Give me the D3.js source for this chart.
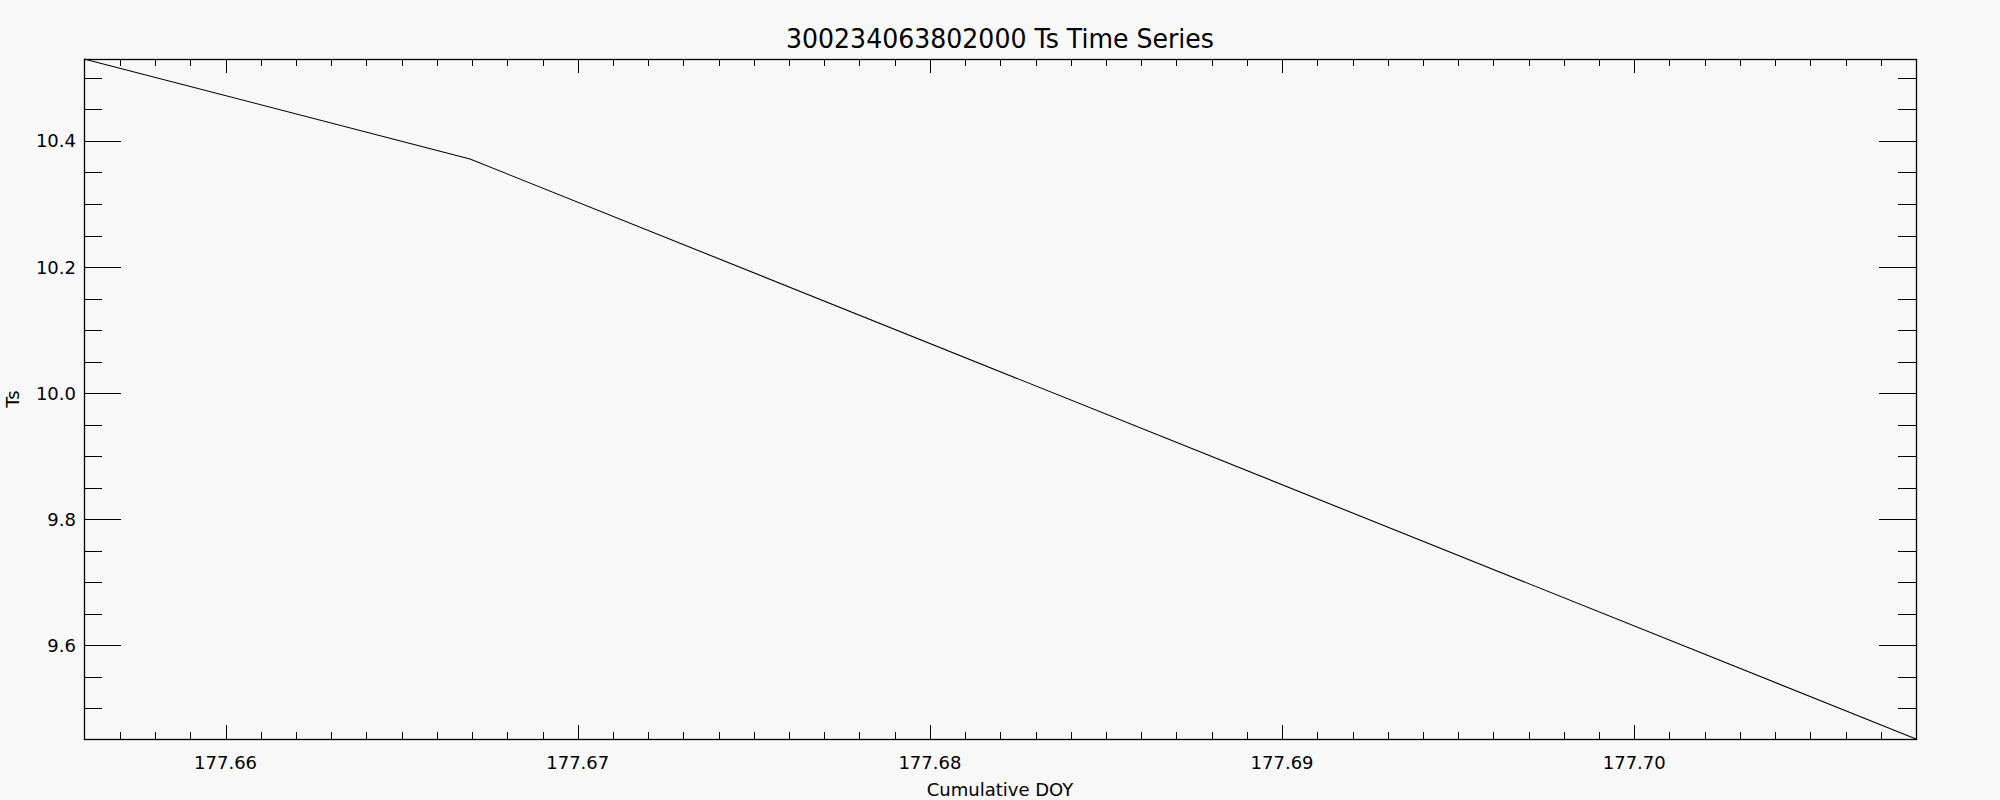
<!DOCTYPE html>
<html lang="en">
  <head>
    <meta charset="UTF-8" />
    <title>Ts Time Series</title>
    <script src="https://d3js.org/d3.v7.min.js"></script>
    <style>
      body {
        margin: 0;
        background-color: #f8f8f8;
      }
      svg {
        display: block;
        font-family: 'DejaVu Sans', sans-serif;
      }
      .axis path,
      .axis line {
        stroke: #000;
        shape-rendering: crispEdges;
      }
      .axis text {
        font-size: 18px;
        fill: #000;
      }
    </style>
  </head>
  <body>
    <svg width="2000" height="800"></svg>

    <script>
      // data
      const doy = [177.65598, 177.66694, 177.70800];
      const ts = [10.530, 10.3714, 9.4513];
      const xTicks = [177.66, 177.67, 177.68, 177.69, 177.70];
      const yTicks = [9.6, 9.8, 10.0, 10.2, 10.4];
      const xDomain = [177.65598, 177.70800];
      const yDomain = [9.4513, 10.530];

      const width = 2000,
        height = 800;
      const margin = { top: 59, right: 84, bottom: 61, left: 84 };

      const svg = d3.select('svg');

      const x = d3
        .scaleLinear()
        .domain(xDomain)
        .range([margin.left, width - margin.right]);

      const y = d3
        .scaleLinear()
        .domain(yDomain)
        .range([height - margin.bottom, margin.top]);

      // minor ticks (skip ones that sit on the frame)
      const xMinor = d3.range(177.657, 177.7075, 0.001);
      const yMinor = d3.range(9.5, 10.531, 0.05);

      // minor ticks, bottom & top
      svg
        .append('g')
        .attr('class', 'axis')
        .attr('transform', `translate(0,${y.range()[0]})`)
        .call(d3.axisTop(x).tickValues(xMinor).tickSize(7).tickFormat(''))
        .call((g) => g.select('.domain').remove());
      svg
        .append('g')
        .attr('class', 'axis')
        .attr('transform', `translate(0,${y.range()[1]})`)
        .call(d3.axisBottom(x).tickValues(xMinor).tickSize(7).tickFormat(''))
        .call((g) => g.select('.domain').remove());

      // major ticks with labels
      svg
        .append('g')
        .attr('class', 'axis')
        .attr('transform', `translate(0,${y.range()[0]})`)
        .call(d3.axisTop(x).tickValues(xTicks).tickSize(14).tickFormat(''))
        .call((g) => g.select('.domain').remove());
      svg
        .append('g')
        .attr('class', 'axis')
        .attr('transform', `translate(0,${y.range()[1]})`)
        .call(d3.axisBottom(x).tickValues(xTicks).tickSize(14).tickFormat(''))
        .call((g) => g.select('.domain').remove());

      svg
        .append('g')
        .attr('class', 'axis')
        .selectAll('text')
        .data(xTicks)
        .join('text')
        .attr('x', (d) => x(d))
        .attr('y', y.range()[0] + 30)
        .attr('text-anchor', 'middle')
        .text(d3.format('.2f'));

      // y minor ticks
      svg
        .append('g')
        .attr('class', 'axis')
        .attr('transform', `translate(${x.range()[0]},0)`)
        .call(d3.axisRight(y).tickValues(yMinor).tickSize(18).tickFormat(''))
        .call((g) => g.select('.domain').remove());
      svg
        .append('g')
        .attr('class', 'axis')
        .attr('transform', `translate(${x.range()[1]},0)`)
        .call(d3.axisLeft(y).tickValues(yMinor).tickSize(18).tickFormat(''))
        .call((g) => g.select('.domain').remove());

      // y major ticks
      svg
        .append('g')
        .attr('class', 'axis')
        .attr('transform', `translate(${x.range()[0]},0)`)
        .call(d3.axisRight(y).tickValues(yTicks).tickSize(37).tickFormat(''))
        .call((g) => g.select('.domain').remove());
      svg
        .append('g')
        .attr('class', 'axis')
        .attr('transform', `translate(${x.range()[1]},0)`)
        .call(d3.axisLeft(y).tickValues(yTicks).tickSize(37).tickFormat(''))
        .call((g) => g.select('.domain').remove());

      svg
        .append('g')
        .attr('class', 'axis')
        .selectAll('text')
        .data(yTicks)
        .join('text')
        .attr('x', x.range()[0] - 8)
        .attr('y', (d) => y(d))
        .attr('dy', '0.36em')
        .attr('text-anchor', 'end')
        .text(d3.format('.1f'));

      // frame
      svg
        .append('rect')
        .attr('x', x.range()[0] + 0.5)
        .attr('y', y.range()[1] + 0.5)
        .attr('width', x.range()[1] - x.range()[0])
        .attr('height', y.range()[0] - y.range()[1])
        .attr('fill', 'none')
        .attr('stroke', '#000')
        .attr('stroke-width', 1.3);

      // series
      const line = d3
        .line()
        .x((d, i) => x(doy[i]))
        .y((d) => y(d));

      svg
        .append('path')
        .datum(ts)
        .attr('d', line)
        .attr('fill', 'none')
        .attr('stroke', '#000')
        .attr('stroke-width', 1.1);

      // titles
      svg
        .append('text')
        .attr('x', 1000)
        .attr('y', 48)
        .attr('text-anchor', 'middle')
        .attr('font-size', 26)
        .attr('textLength', 428)
        .attr('lengthAdjust', 'spacingAndGlyphs')
        .text('300234063802000 Ts Time Series');

      svg
        .append('text')
        .attr('x', 1000)
        .attr('y', 796)
        .attr('text-anchor', 'middle')
        .attr('font-size', 18)
        .text('Cumulative DOY');

      svg
        .append('text')
        .attr('transform', 'translate(19,399) rotate(-90)')
        .attr('text-anchor', 'middle')
        .attr('font-size', 18)
        .text('Ts');
    </script>
  </body>
</html>
